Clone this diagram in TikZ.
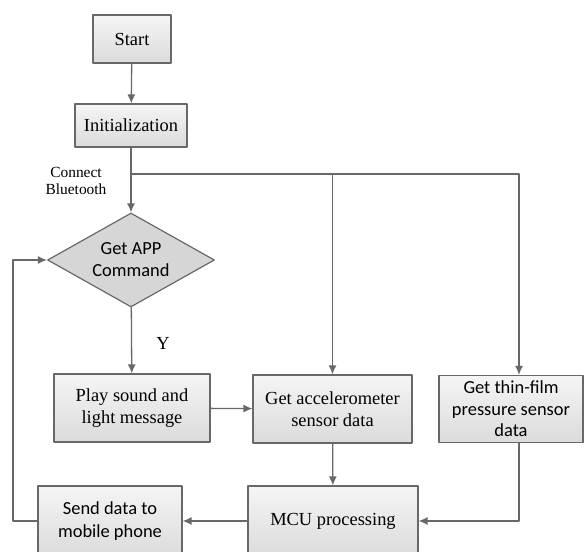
\documentclass[tikz,border=0pt]{standalone}
\usepackage{fontspec}
\setmainfont{Liberation Serif}
\newfontfamily\calfont{Carlito}
\usetikzlibrary{shapes.geometric,arrows.meta}
\definecolor{linegray}{HTML}{686868}
\definecolor{diagray}{HTML}{D6D6D6}
\begin{document}
\begin{tikzpicture}[>={Latex[length=9bp,width=8bp]},line join=bevel,
  box/.style={draw=linegray,line width=1.2bp,top color=white!96!black,bottom color=white!86!black,
    align=center,inner sep=0pt,font=\fontsize{18.5}{22.5}\selectfont},
  decision/.style={diamond,aspect=1.78,draw=linegray,line width=1.2bp,fill=diagray,align=center,inner sep=0pt,
    minimum width=167bp,minimum height=94bp,font=\calfont\fontsize{18.5}{22}\selectfont},
  flow/.style={draw=linegray,line width=1.3bp,->},
  ]
\useasboundingbox (0bp,0bp) rectangle (587bp,552bp);
%%
\node (start) at (132bp,513bp) [box,minimum width=78bp,minimum height=48bp] {Start};
  \node (init) at (131bp,426.5bp) [box,minimum width=112bp,minimum height=43bp] {Initialization};
  \node (getapp) at (131bp,292bp) [decision] {Get APP\\Command};
  \node (play) at (132bp,144bp) [box,minimum width=156bp,minimum height=68bp] {Play sound and\\light message};
  \node (accel) at (332.5bp,143bp) [box,minimum width=159bp,minimum height=68bp] {Get accelerometer\\sensor data};
  \node (film) at (511bp,143bp) [box,minimum width=144bp,minimum height=67bp,font=\calfont\fontsize{18.5}{21.5}\selectfont] {Get thin-film\\pressure sensor\\data};
  \node (mcu) at (333bp,31bp) [box,minimum width=170bp,minimum height=70bp] {MCU processing};
  \node (send) at (110bp,31bp) [box,minimum width=144bp,minimum height=70bp,font=\calfont\fontsize{18.5}{23}\selectfont] {Send data to\\mobile phone};
  \node (bluetooth) at (76bp,371bp) [align=center,inner sep=0pt,font=\fontsize{15.5}{18}\selectfont] {Connect\\Bluetooth};
  \node (yes) at (163bp,209bp) [inner sep=0pt,font=\fontsize{18.5}{22}\selectfont] {Y};
  \coordinate (branch) at (131bp,378bp);
  \coordinate (filmtop) at (519bp,378bp);
  \coordinate (loop) at (13bp,31bp);
  \draw [flow] (start) -- (init);
  \draw [flow] (init) -- (getapp);
  \draw [flow] (branch) -- (filmtop) -- (filmtop |- film.north);
  \draw [flow] (accel |- branch) -- (accel);
  \draw [flow] (getapp) -- (play);
  \draw [flow] (play) -- (accel);
  \draw [flow] (accel) -- (mcu);
  \draw [flow] (filmtop |- film.south) |- (mcu.east);
  \draw [flow] (mcu) -- (send);
  \draw [flow] (send.west) -- (loop) |- (getapp.west);
%
\end{tikzpicture}
\end{document}
